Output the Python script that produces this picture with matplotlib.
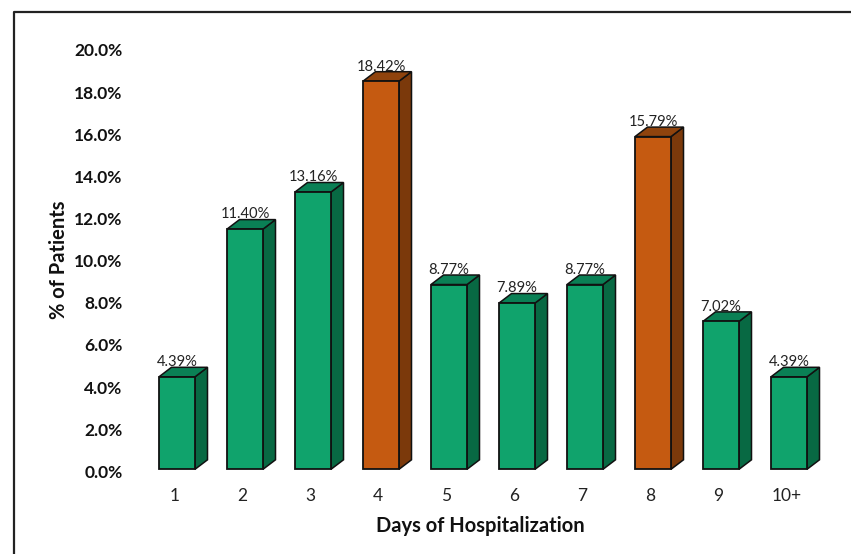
import matplotlib
matplotlib.use('Agg')
import matplotlib.pyplot as plt
from matplotlib.lines import Line2D
from matplotlib.patches import Polygon

days = ['1', '2', '3', '4', '5', '6', '7', '8', '9', '10+']
patients = [4.39, 11.40, 13.16, 18.42, 8.77, 7.89, 8.77, 15.79, 7.02, 4.39]
highlighted = ['4', '8']
yticks = [0, 2, 4, 6, 8, 10, 12, 14, 16, 18, 20]

W, H = 851, 554
GREEN = ('#10a36c', '#0a8055', '#086943')
ORANGE = ('#c55a11', '#8f430d', '#7b390b')

plt.rcParams['font.family'] = ['Lato', 'DejaVu Sans']

fig = plt.figure(figsize=(W / 100, H / 100), dpi=100)

# only the top and left of the outer frame are inside the picture
fig.add_artist(Line2D([14.5 / W, 14.5 / W, 1], [0, 1 - 11.5 / H, 1 - 11.5 / H],
                      transform=fig.transFigure, color='#222222', lw=1.6))

# axes placed in pixels so one category = 68 px, 1% = 21.07 px
ax = fig.add_axes([143 / W, 1 - 469.3 / H, 680 / W, 421.4 / H])
ax.set_xlim(-0.5, 9.5)
ax.set_ylim(0, 20)
ax.axis('off')

width = 36 / 68
dx = 12.5 / 68
dy = 9.5 / 21.07

for i, (day, val) in enumerate(zip(days, patients)):
    front, top, side = ORANGE if day in highlighted else GREEN
    l = i - width / 2
    r = i + width / 2
    ax.add_patch(Polygon([(r, 0), (r + dx, dy), (r + dx, val + dy), (r, val)],
                         fc=side, ec='#111111', lw=1.1, clip_on=False))
    ax.add_patch(Polygon([(l, val), (l + dx, val + dy), (r + dx, val + dy), (r, val)],
                         fc=top, ec='#111111', lw=1.1, clip_on=False))
    ax.bar(i, val, width=width, color=front, edgecolor='#111111', linewidth=1.3, clip_on=False)
    ax.text(i, val + dy - 0.09, '%.2f%%' % val, ha='center', va='bottom',
            fontsize=10.6, color='#222222', clip_on=False)
    ax.text(i - 0.04, -1.28, day, ha='center', va='center', fontsize=12.5, color='#222222')

for t in yticks:
    ax.text(-0.5 - 0.30, t - 0.17, '%.1f%%' % t, ha='right', va='center',
            fontsize=12.5, fontweight='bold', color='#111111')

fig.text(480 / W, 1 - 526 / H, 'Days of Hospitalization', ha='center', va='center',
         fontsize=14.5, fontweight='bold', color='#111111')
fig.text(59 / W, 1 - 260 / H, '% of Patients', ha='center', va='center', rotation=90,
         fontsize=14.5, fontweight='bold', color='#111111')

fig.savefig('out.png', dpi=100)
